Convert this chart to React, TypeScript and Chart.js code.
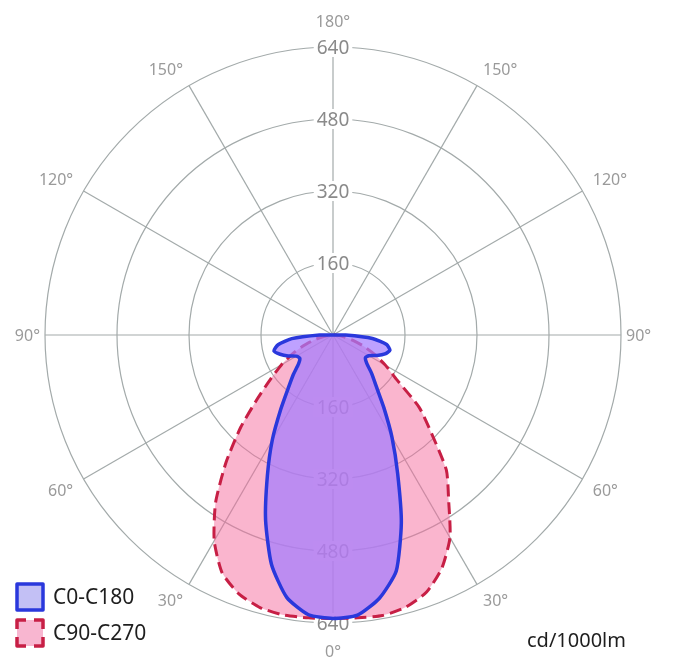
import React, { useEffect, useRef } from "react";
import { Chart, registerables } from "chart.js";

Chart.register(...registerables);

// Gamma angles (degrees from nadir), one half of the plane
const GAMMA = [0, 5, 10, 15, 20, 25, 30, 35, 40, 45, 50, 55, 60, 65, 70, 75, 80, 85, 90,
  95, 100, 105, 110, 115, 120, 125, 130, 135, 140, 145, 150, 155, 160, 165, 170, 175, 180];

// C0-C180 plane (cd/1000lm): left half = C180, right half = C0
const C180 = [630, 624, 592, 528, 438, 345, 270, 203, 155, 125, 100, 90, 94, 110, 125, 136, 124, 92, 30,
  0, 0, 0, 0, 0, 0, 0, 0, 0, 0, 0, 0, 0, 0, 0, 0, 0, 0];
const C0 = [630, 625, 594, 543, 444, 340, 262, 197, 150, 122, 98, 88, 92, 108, 123, 131, 121, 88, 28,
  0, 0, 0, 0, 0, 0, 0, 0, 0, 0, 0, 0, 0, 0, 0, 0, 0, 0];

// C90-C270 plane: left half = C270, right half = C90
const C270 = [630, 631, 632, 627, 612, 583, 528, 455, 370, 290, 218, 168, 132, 100, 70, 45, 25, 10, 0,
  0, 0, 0, 0, 0, 0, 0, 0, 0, 0, 0, 0, 0, 0, 0, 0, 0, 0];
const C90 = [630, 631, 633, 626, 608, 572, 520, 448, 392, 310, 250, 173, 135, 102, 72, 46, 26, 10, 0,
  0, 0, 0, 0, 0, 0, 0, 0, 0, 0, 0, 0, 0, 0, 0, 0, 0, 0];

const RADIAL_TICKS = [160, 320, 480, 640];
const ANGLE_TICKS = [0, 30, 60, 90, 120, 150, 180];
const SERIES_NAMES = ["C0-C180", "C90-C270"];
const UNIT = "cd/1000lm";

const FONT = '"Noto Sans", sans-serif';
const GRID = "#a3aaaa";
const TICK_COLOR = "#8a8a8a";
const ANGLE_COLOR = "#9a9a9a";

// full circle: left half (gamma 0..180) then right half going back (175..5)
const fullLabels = [...GAMMA, ...GAMMA.slice(1, -1).reverse()];
const joinHalves = (left: number[], right: number[]) => [...left, ...right.slice(1, -1).reverse()];

const BLUE = { border: "#2a38dc", fill: "rgba(165,125,255,0.72)", legendFill: "#c3c0f5" };
const RED = { border: "#c71f45", fill: "rgba(246,108,158,0.5)", legendFill: "#f8b6d0" };

export default function App() {
  const ref = useRef<HTMLCanvasElement | null>(null);

  useEffect(() => {
    const canvas = ref.current;
    if (!canvas) return;

    const overlay = {
      id: "overlay",
      beforeDatasetsDraw(chart: any) {
        const scale = chart.scales.r;
        const ctx = chart.ctx as CanvasRenderingContext2D;
        const n = fullLabels.length;
        const topIdx = n / 2;
        ctx.save();
        ctx.font = `19px ${FONT}`;
        ctx.textAlign = "center";
        ctx.textBaseline = "alphabetic";
        for (const v of RADIAL_TICKS) {
          for (const idx of [0, topIdx]) {
            const p = scale.getPointPositionForValue(idx, v);
            const t = String(v);
            const w = ctx.measureText(t).width;
            ctx.fillStyle = "#ffffff";
            ctx.fillRect(p.x - w / 2 - 3, p.y - 10, w + 6, 20);
            ctx.fillStyle = TICK_COLOR;
            ctx.fillText(t, p.x, p.y + 0.357 * 19);
          }
        }
        ctx.restore();
      },
      afterDraw(chart: any) {
        const scale = chart.scales.r;
        const ctx = chart.ctx as CanvasRenderingContext2D;
        const n = fullLabels.length;
        const R = scale.drawingArea;
        ctx.save();
        // angle labels
        const size = 16;
        const capH = 0.714 * size;
        ctx.font = `${size}px ${FONT}`;
        ctx.fillStyle = ANGLE_COLOR;
        ctx.textBaseline = "alphabetic";
        for (const g of ANGLE_TICKS) {
          const idxs = g === 0 || g === 180 ? [g / 5] : [g / 5, n - g / 5];
          for (const idx of idxs) {
            const theta = idx * (360 / n); // clockwise from bottom
            const text = `${g}°`;
            let pad = 12;
            if (theta === 0) pad = 23;
            else if (theta === 180) pad = 20;
            else if (theta === 90 || theta === 270) pad = 5;
            const p = scale.getPointPosition(idx, R + pad);
            let align: CanvasTextAlign = "center";
            if (theta > 0 && theta < 180) align = "right";
            else if (theta > 180) align = "left";
            ctx.textAlign = align;
            let y = p.y;
            if (theta === 90 || theta === 270) y = p.y + capH / 2;
            else if (theta < 90 || theta > 270) y = p.y + capH; // lower half: top-aligned
            else y = p.y; // upper half: bottom aligned
            ctx.fillText(text, p.x, y);
          }
        }

        // legend
        const ds = chart.data.datasets;
        const boxes = [
          { y: 584, ds: ds[0], fill: BLUE.legendFill, dash: [] as number[] },
          { y: 620, ds: ds[1], fill: RED.legendFill, dash: [18, 8] },
        ];
        boxes.forEach((b, i) => {
          ctx.save();
          ctx.fillStyle = b.fill;
          ctx.fillRect(17, b.y, 26, 26);
          ctx.strokeStyle = b.ds.borderColor;
          ctx.lineWidth = 3.5;
          ctx.setLineDash(b.dash);
          ctx.lineDashOffset = b.dash.length ? 9 : 0;
          ctx.beginPath();
          ctx.moveTo(17, b.y);
          ctx.lineTo(43, b.y);
          ctx.lineTo(43, b.y + 26);
          ctx.lineTo(17, b.y + 26);
          ctx.closePath();
          ctx.lineJoin = "round";
          ctx.stroke();
          ctx.restore();
          ctx.font = `21px ${FONT}`;
          ctx.fillStyle = "#1e1e1e";
          ctx.textAlign = "left";
          ctx.fillText(SERIES_NAMES[i], 53, b.y + 13 + 0.357 * 21);
        });

        // unit
        ctx.font = `20px ${FONT}`;
        ctx.fillStyle = "#1e1e1e";
        ctx.textAlign = "left";
        ctx.fillText(UNIT, 527, 647);
        ctx.restore();
      },
    };

    const chart = new Chart(canvas, {
      type: "radar",
      data: {
        labels: fullLabels.map((g) => `${g}°`),
        datasets: [
          {
            label: SERIES_NAMES[0],
            data: joinHalves(C180, C0),
            borderColor: BLUE.border,
            backgroundColor: BLUE.fill,
            borderWidth: 3.5,
            fill: true,
            pointRadius: 0,
            tension: 0.2,
          },
          {
            label: SERIES_NAMES[1],
            data: joinHalves(C270, C90),
            borderColor: RED.border,
            backgroundColor: RED.fill,
            borderWidth: 3,
            borderDash: [12, 6],
            fill: true,
            pointRadius: 0,
            tension: 0.2,
          },
        ],
      },
      options: {
        responsive: false,
        animation: false,
        layout: { padding: { left: 45, top: 47, right: 69, bottom: 42 } },
        plugins: { legend: { display: false }, tooltip: { enabled: false } },
        scales: {
          r: {
            min: 0,
            max: 640,
            startAngle: 180,
            ticks: { display: false, stepSize: 160 },
            grid: { circular: true, color: GRID, lineWidth: 1.2 },
            angleLines: {
              display: true,
              color: (c: any) => (c.index % 6 === 0 ? GRID : "rgba(0,0,0,0)"),
              lineWidth: (c: any) => (c.index % 6 === 0 ? 1.2 : 0),
            },
            pointLabels: { display: false },
          },
        },
      },
      plugins: [overlay],
    });

    return () => chart.destroy();
  }, []);

  return (
    <div style={{ position: "absolute", left: 0, top: 0, width: 690, height: 665, background: "#ffffff" }}>
      <canvas ref={ref} width={690} height={665} style={{ width: 690, height: 665, display: "block" }} />
    </div>
  );
}
